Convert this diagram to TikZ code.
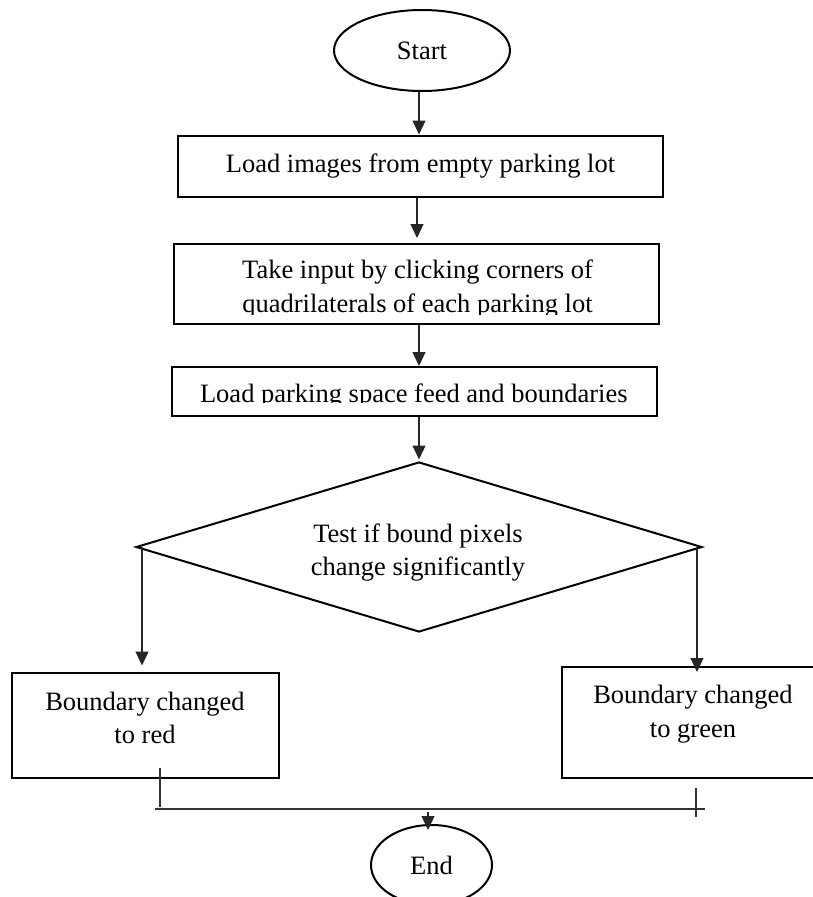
\documentclass[tikz,border=0pt]{standalone}
\usepackage{fontspec}
\setmainfont{Liberation Serif}
\usetikzlibrary{shapes.geometric,arrows.meta}
\begin{document}
\begin{tikzpicture}[x=1pt,y=-1pt,
  every node/.style={font=\fontsize{26.5}{33}\selectfont},
  box/.style={draw, line width=2pt, rectangle, inner sep=0pt},
  oval/.style={draw, ellipse, line width=2pt, inner sep=0pt},
  txt/.style={align=center, inner sep=0pt},
  arr/.style={draw=black!85, line width=1.1pt, -{Triangle[length=14pt,width=13pt]}},
  ln/.style={draw=black!80, line width=1.1pt}]
\useasboundingbox (0,0) rectangle (813,897);

\node[oval, minimum width=176pt, minimum height=81pt] (start) at (422,50.5) {Start};
\node[box, minimum width=485pt, minimum height=61pt] (b1) at (420.5,166) {Load images from empty parking lot};

\node[box, minimum width=485pt, minimum height=80pt] (b2) at (416.5,284) {};
\begin{scope}
  \clip (b2.north west) rectangle ([yshift=11pt]b2.south east);
  \node[txt, font=\fontsize{26.5}{34}\selectfont] (b2t) at (417.5,288.8) {Take input by clicking corners of\\quadrilaterals of each parking lot};
\end{scope}

\node[box, minimum width=485pt, minimum height=49pt] (b3) at (414.5,391.5) {};
\begin{scope}
  \clip (b3.north west) rectangle ([yshift=15pt]b3.south east);
  \node[txt] (b3t) at (413.8,395.8) {Load parking space feed and boundaries};
\end{scope}

\node[draw, diamond, line width=2pt, minimum width=566pt, minimum height=170pt, inner sep=0pt, shape aspect=3.33] (dec) at (419,547) {};
\node[txt] (dect) at (418,552.3) {Test if bound pixels\\change significantly};

\node[box, minimum width=267pt, minimum height=105pt] (red) at (145.5,725.5) {};
\node[txt] (redt) at (145,717.5) {Boundary changed\\to red};

\node[box, minimum width=262pt, minimum height=111pt] (green) at (693,722.5) {};
\node[txt, font=\fontsize{26.5}{34}\selectfont] (greent) at (693,713.9) {Boundary changed\\to green};

\node[oval, minimum width=121pt, minimum height=80pt] (end) at (431.5,865) {End};

\draw[arr] ([xshift=-3pt]start.south) -- ([xshift=-3pt]start.south |- b1.north);
\draw[arr, shorten >=5pt] ([xshift=-3.5pt]b1.south) -- ([xshift=-3.5pt]b1.south |- b2.north);
\draw[arr] ([xshift=2.5pt]b2.south) -- ([xshift=2.5pt]b2.south |- b3.north);
\draw[arr, shorten >=1.5pt] (b3.south -| dec.north) -- (dec.north);

\coordinate (dl) at ([xshift=7pt]dec.west);
\draw[arr, shorten >=6.5pt] (dl) -- (dl |- red.north);
\coordinate (dr) at ([xshift=-6pt]dec.east);
\draw[arr, shorten >=-6pt] (dr) -- (dr |- green.north);

\coordinate (rl) at (160,768);
\coordinate (rlb) at (160,807);
\coordinate (gr) at (696,788);
\coordinate (grb) at (696,817);
\coordinate (hl) at (155,809);
\coordinate (hr) at (705,809);
\coordinate (jc) at (428,812);
\draw[ln] (rl) -- (rlb);
\draw[ln] (gr) -- (grb);
\draw[ln] (hl) -- (hr);
\draw[arr, shorten >=-6pt] (jc) -- (jc |- end.north);
\end{tikzpicture}
\end{document}
